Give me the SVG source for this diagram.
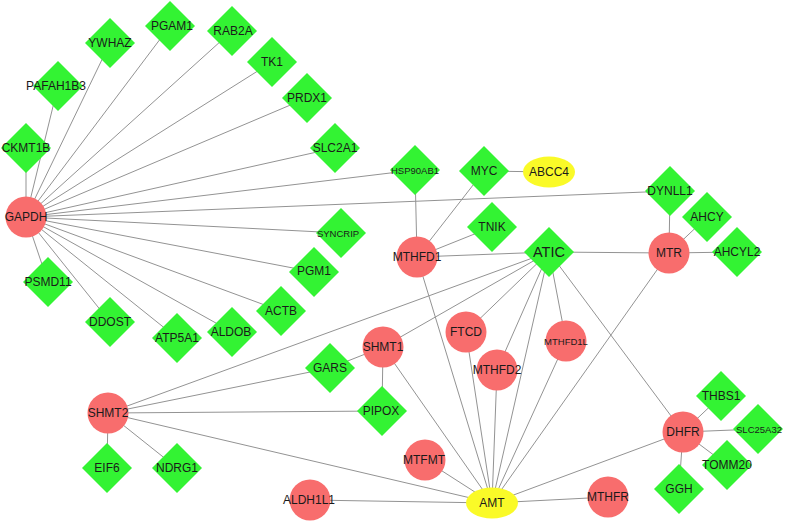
<svg xmlns="http://www.w3.org/2000/svg" width="787" height="522" viewBox="0 0 787 522">
<defs>
<style>
.e{stroke:#939393;stroke-width:1;fill:none}
.c{fill:#f86d6d}
.d{fill:#33f333}
.y{fill:#fafa28}
text{font-family:"Liberation Sans",Arial,sans-serif;font-size:12px;fill:#1a1a1a;text-anchor:middle;dominant-baseline:central}
.s{font-size:9.5px}
.b{font-size:14.5px}
</style>
<polygon id="dm" points="0,-25 25,0 0,25 -25,0"/>
</defs>
<rect width="787" height="522" fill="#fff"/>
<g id="edges" class="e">
<line x1="26" y1="217" x2="26" y2="148"/>
<line x1="26" y1="217" x2="58" y2="86"/>
<line x1="26" y1="217" x2="110" y2="43"/>
<line x1="26" y1="217" x2="170" y2="26"/>
<line x1="26" y1="217" x2="232" y2="31"/>
<line x1="26" y1="217" x2="272" y2="62"/>
<line x1="26" y1="217" x2="307" y2="98"/>
<line x1="26" y1="217" x2="335" y2="148"/>
<line x1="26" y1="217" x2="415" y2="170"/>
<line x1="26" y1="217" x2="670" y2="191"/>
<line x1="26" y1="217" x2="341" y2="233"/>
<line x1="26" y1="217" x2="314" y2="272"/>
<line x1="26" y1="217" x2="281" y2="311"/>
<line x1="26" y1="217" x2="232" y2="332"/>
<line x1="26" y1="217" x2="177" y2="338"/>
<line x1="26" y1="217" x2="110" y2="322"/>
<line x1="26" y1="217" x2="48" y2="282"/>
<line x1="415" y1="170" x2="417" y2="257"/>
<line x1="484" y1="171" x2="417" y2="257"/>
<line x1="484" y1="171" x2="549" y2="172"/>
<line x1="492" y1="227" x2="417" y2="257"/>
<line x1="417" y1="257" x2="549" y2="252"/>
<line x1="417" y1="257" x2="492" y2="503"/>
<line x1="670" y1="191" x2="669" y2="253"/>
<line x1="707" y1="217" x2="669" y2="253"/>
<line x1="737" y1="252" x2="669" y2="253"/>
<line x1="549" y1="252" x2="669" y2="253"/>
<line x1="669" y1="253" x2="492" y2="503"/>
<line x1="549" y1="252" x2="108" y2="413"/>
<line x1="549" y1="252" x2="383" y2="347"/>
<line x1="549" y1="252" x2="466" y2="332"/>
<line x1="549" y1="252" x2="497" y2="370"/>
<line x1="549" y1="252" x2="492" y2="503"/>
<line x1="549" y1="252" x2="566" y2="341"/>
<line x1="549" y1="252" x2="683" y2="432"/>
<line x1="383" y1="347" x2="330" y2="368"/>
<line x1="383" y1="347" x2="382" y2="411"/>
<line x1="383" y1="347" x2="492" y2="503"/>
<line x1="108" y1="413" x2="330" y2="368"/>
<line x1="108" y1="413" x2="382" y2="411"/>
<line x1="108" y1="413" x2="492" y2="503"/>
<line x1="108" y1="413" x2="107" y2="468"/>
<line x1="108" y1="413" x2="177" y2="468"/>
<line x1="466" y1="332" x2="492" y2="503"/>
<line x1="497" y1="370" x2="492" y2="503"/>
<line x1="566" y1="341" x2="492" y2="503"/>
<line x1="425" y1="460" x2="492" y2="503"/>
<line x1="310" y1="500" x2="492" y2="503"/>
<line x1="608" y1="497" x2="492" y2="503"/>
<line x1="683" y1="432" x2="492" y2="503"/>
<line x1="683" y1="432" x2="721" y2="396"/>
<line x1="683" y1="432" x2="758" y2="429"/>
<line x1="683" y1="432" x2="727" y2="465"/>
<line x1="683" y1="432" x2="679" y2="489"/>
</g>
<g id="GAPDH"><circle class="c" cx="26" cy="217" r="20.5"/><text x="26" y="217">GAPDH</text></g>
<g id="CKMT1B"><use href="#dm" class="d" x="26" y="148"/><text x="26" y="148">CKMT1B</text></g>
<g id="PAFAH1B3"><use href="#dm" class="d" x="58" y="86"/><text x="56" y="86">PAFAH1B3</text></g>
<g id="YWHAZ"><use href="#dm" class="d" x="110" y="43"/><text x="110" y="43">YWHAZ</text></g>
<g id="PGAM1"><use href="#dm" class="d" x="170" y="26"/><text x="172" y="26">PGAM1</text></g>
<g id="RAB2A"><use href="#dm" class="d" x="232" y="31"/><text x="233" y="31">RAB2A</text></g>
<g id="TK1"><use href="#dm" class="d" x="272" y="62"/><text x="272" y="62">TK1</text></g>
<g id="PRDX1"><use href="#dm" class="d" x="307" y="98"/><text x="307" y="98">PRDX1</text></g>
<g id="SLC2A1"><use href="#dm" class="d" x="335" y="148"/><text x="335" y="148">SLC2A1</text></g>
<g id="SYNCRIP"><use href="#dm" class="d" x="341" y="233"/><text class="s" x="338" y="233">SYNCRIP</text></g>
<g id="PGM1"><use href="#dm" class="d" x="314" y="272"/><text x="314" y="271">PGM1</text></g>
<g id="ACTB"><use href="#dm" class="d" x="281" y="311"/><text x="281" y="311">ACTB</text></g>
<g id="ALDOB"><use href="#dm" class="d" x="232" y="332"/><text x="231" y="332">ALDOB</text></g>
<g id="ATP5A1"><use href="#dm" class="d" x="177" y="338"/><text x="177" y="338">ATP5A1</text></g>
<g id="DDOST"><use href="#dm" class="d" x="110" y="322"/><text x="110" y="322">DDOST</text></g>
<g id="PSMD11"><use href="#dm" class="d" x="48" y="282"/><text x="48" y="282">PSMD11</text></g>
<g id="HSP90AB1"><use href="#dm" class="d" x="415" y="170"/><text class="s" x="415" y="170">HSP90AB1</text></g>
<g id="MYC"><use href="#dm" class="d" x="484" y="171"/><text x="484" y="171">MYC</text></g>
<g id="ABCC4"><ellipse class="y" cx="549" cy="172" rx="26" ry="15.5"/><text x="549" y="172">ABCC4</text></g>
<g id="TNIK"><use href="#dm" class="d" x="492" y="227"/><text x="492" y="227">TNIK</text></g>
<g id="DYNLL1"><use href="#dm" class="d" x="670" y="191"/><text x="670" y="191">DYNLL1</text></g>
<g id="AHCY"><use href="#dm" class="d" x="707" y="217"/><text x="707" y="217">AHCY</text></g>
<g id="AHCYL2"><use href="#dm" class="d" x="737" y="252"/><text x="737" y="252">AHCYL2</text></g>
<g id="MTHFD1"><circle class="c" cx="417" cy="257" r="20.5"/><text x="417" y="257">MTHFD1</text></g>
<g id="ATIC"><use href="#dm" class="d" x="549" y="252"/><text class="b" x="549" y="252">ATIC</text></g>
<g id="MTR"><circle class="c" cx="669" cy="253" r="20.5"/><text x="669" y="253">MTR</text></g>
<g id="SHMT1"><circle class="c" cx="383" cy="347" r="20.5"/><text x="383" y="347">SHMT1</text></g>
<g id="FTCD"><circle class="c" cx="466" cy="332" r="20.5"/><text x="466" y="332">FTCD</text></g>
<g id="MTHFD1L"><circle class="c" cx="566" cy="341" r="20.5"/><text class="s" x="566" y="341">MTHFD1L</text></g>
<g id="MTHFD2"><circle class="c" cx="497" cy="370" r="20.5"/><text x="497" y="370">MTHFD2</text></g>
<g id="GARS"><use href="#dm" class="d" x="330" y="368"/><text x="330" y="368">GARS</text></g>
<g id="PIPOX"><use href="#dm" class="d" x="382" y="411"/><text x="381" y="411">PIPOX</text></g>
<g id="SHMT2"><circle class="c" cx="108" cy="413" r="20.5"/><text x="108" y="413">SHMT2</text></g>
<g id="EIF6"><use href="#dm" class="d" x="107" y="468"/><text x="107" y="468">EIF6</text></g>
<g id="NDRG1"><use href="#dm" class="d" x="177" y="468"/><text x="177" y="468">NDRG1</text></g>
<g id="MTFMT"><circle class="c" cx="425" cy="460" r="20.5"/><text x="424" y="460">MTFMT</text></g>
<g id="ALDH1L1"><circle class="c" cx="310" cy="500" r="20.5"/><text x="309" y="500">ALDH1L1</text></g>
<g id="AMT"><ellipse class="y" cx="492" cy="503" rx="26" ry="15.5"/><text x="492" y="503">AMT</text></g>
<g id="MTHFR"><circle class="c" cx="608" cy="497" r="20.5"/><text x="608" y="497">MTHFR</text></g>
<g id="DHFR"><circle class="c" cx="683" cy="432" r="20.5"/><text x="683" y="432">DHFR</text></g>
<g id="THBS1"><use href="#dm" class="d" x="721" y="396"/><text x="721" y="396">THBS1</text></g>
<g id="SLC25A32"><use href="#dm" class="d" x="758" y="429"/><text class="s" x="759" y="429">SLC25A32</text></g>
<g id="TOMM20"><use href="#dm" class="d" x="727" y="465"/><text x="727" y="465">TOMM20</text></g>
<g id="GGH"><use href="#dm" class="d" x="679" y="489"/><text x="679" y="489">GGH</text></g>
</svg>
